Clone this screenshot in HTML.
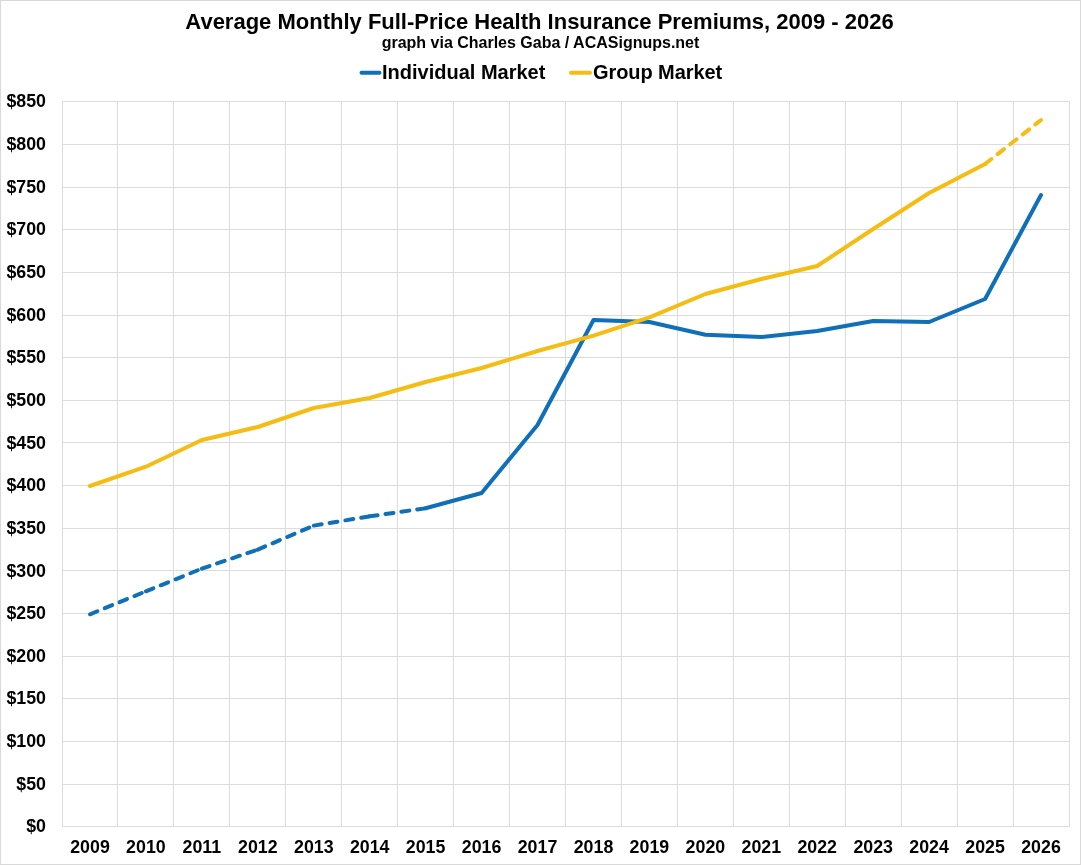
<!DOCTYPE html>
<html><head><meta charset="utf-8"><title>Chart</title>
<style>
html,body{margin:0;padding:0;background:#fff;}
body{width:1081px;height:865px;position:relative;overflow:hidden;font-family:"Liberation Sans",sans-serif;font-weight:bold;color:#000;}
#frame{position:absolute;left:0;top:0;width:1079px;height:863px;border:1px solid #d9d9d9;}
#txt{position:absolute;left:0;top:0;width:1081px;height:865px;will-change:transform;opacity:0.999;}
.t{position:absolute;white-space:nowrap;line-height:1;}
.yl{position:absolute;right:1035px;text-align:right;font-size:17.8px;line-height:20px;height:20px;white-space:nowrap;}
.xl{position:absolute;top:837.3px;width:56px;text-align:center;font-size:17.8px;line-height:20px;white-space:nowrap;}
</style></head><body>
<div id="frame"></div>

<svg width="1081" height="865" viewBox="0 0 1081 865" style="position:absolute;left:0;top:0">
<path d="M62.5 101 V827 M117.5 101 V827 M173.5 101 V827 M229.5 101 V827 M285.5 101 V827 M341.5 101 V827 M397.5 101 V827 M453.5 101 V827 M509.5 101 V827 M565.5 101 V827 M621.5 101 V827 M677.5 101 V827 M733.5 101 V827 M789.5 101 V827 M845.5 101 V827 M901.5 101 V827 M957.5 101 V827 M1013.5 101 V827 M1069.5 101 V827 M62 101.5 H1070 M62 144.5 H1070 M62 187.5 H1070 M62 229.5 H1070 M62 272.5 H1070 M62 315.5 H1070 M62 357.5 H1070 M62 400.5 H1070 M62 442.5 H1070 M62 485.5 H1070 M62 528.5 H1070 M62 570.5 H1070 M62 613.5 H1070 M62 656.5 H1070 M62 698.5 H1070 M62 741.5 H1070 M62 784.5 H1070 M62 826.5 H1070" stroke="#dcdcdc" stroke-width="1" fill="none"/>
<line x1="90.0" y1="614.3" x2="145.9" y2="591.3" stroke="#0f6fb8" stroke-width="4" stroke-linecap="round" stroke-dasharray="8 8"/>
<line x1="145.9" y1="591.3" x2="201.9" y2="568.6" stroke="#0f6fb8" stroke-width="4" stroke-linecap="round" stroke-dasharray="8 8"/>
<line x1="201.9" y1="568.6" x2="257.8" y2="549.6" stroke="#0f6fb8" stroke-width="4" stroke-linecap="round" stroke-dasharray="8 8"/>
<line x1="257.8" y1="549.6" x2="313.8" y2="525.6" stroke="#0f6fb8" stroke-width="4" stroke-linecap="round" stroke-dasharray="8 8"/>
<line x1="313.8" y1="525.6" x2="369.7" y2="516.3" stroke="#0f6fb8" stroke-width="4" stroke-linecap="round" stroke-dasharray="8 8"/>
<line x1="369.7" y1="516.3" x2="425.6" y2="508.3" stroke="#0f6fb8" stroke-width="4" stroke-linecap="round" stroke-dasharray="8 8"/>
<polyline points="425.6,508.3 481.6,493.0 537.5,425.0 593.5,320.0 649.4,322.0 705.4,334.8 761.3,337.0 817.2,331.0 873.2,321.0 929.1,322.0 985.1,299.0 1041.0,195.0" fill="none" stroke="#0f6fb8" stroke-width="4" stroke-linecap="round" stroke-linejoin="round"/>
<polyline points="90.0,486.0 145.9,466.7 201.9,440.0 257.8,427.0 313.8,408.0 369.7,398.0 425.6,382.0 481.6,368.0 537.5,351.0 593.5,335.6 649.4,317.3 705.4,294.0 761.3,279.0 817.2,266.0 873.2,229.0 929.1,193.0 985.1,164.0" fill="none" stroke="#f5bd14" stroke-width="4" stroke-linecap="round" stroke-linejoin="round"/>
<polyline points="985.1,164.0 1041.0,120.0" fill="none" stroke="#f5bd14" stroke-width="4" stroke-linecap="round" stroke-linejoin="round" stroke-dasharray="8 8"/>
<line x1="361.5" y1="72.7" x2="379.5" y2="72.7" stroke="#0f6fb8" stroke-width="4" stroke-linecap="round"/>
<line x1="571" y1="72.7" x2="590" y2="72.7" stroke="#f5bd14" stroke-width="4" stroke-linecap="round"/>
</svg>
<div id="txt">
<div class="t" style="left:-1px;width:1081px;text-align:center;top:10.8px;font-size:22px;">Average Monthly Full-Price Health Insurance Premiums, 2009 - 2026</div>
<div class="t" style="left:0;width:1081px;text-align:center;top:35.3px;font-size:16px;">graph via Charles Gaba / ACASignups.net</div>
<div class="t" style="left:382px;top:62px;font-size:20px;">Individual Market</div>
<div class="t" style="left:593px;top:62px;font-size:20px;letter-spacing:-0.08px;">Group Market</div>
<div class="yl" style="top:91.37px">$850</div>
<div class="yl" style="top:134.02px">$800</div>
<div class="yl" style="top:176.67px">$750</div>
<div class="yl" style="top:219.32px">$700</div>
<div class="yl" style="top:261.97px">$650</div>
<div class="yl" style="top:304.62px">$600</div>
<div class="yl" style="top:347.27px">$550</div>
<div class="yl" style="top:389.92px">$500</div>
<div class="yl" style="top:432.57px">$450</div>
<div class="yl" style="top:475.22px">$400</div>
<div class="yl" style="top:517.87px">$350</div>
<div class="yl" style="top:560.52px">$300</div>
<div class="yl" style="top:603.17px">$250</div>
<div class="yl" style="top:645.82px">$200</div>
<div class="yl" style="top:688.47px">$150</div>
<div class="yl" style="top:731.12px">$100</div>
<div class="yl" style="top:773.77px">$50</div>
<div class="yl" style="top:816.42px">$0</div>
<div class="xl" style="left:62.0px">2009</div>
<div class="xl" style="left:117.9px">2010</div>
<div class="xl" style="left:173.9px">2011</div>
<div class="xl" style="left:229.8px">2012</div>
<div class="xl" style="left:285.8px">2013</div>
<div class="xl" style="left:341.7px">2014</div>
<div class="xl" style="left:397.6px">2015</div>
<div class="xl" style="left:453.6px">2016</div>
<div class="xl" style="left:509.5px">2017</div>
<div class="xl" style="left:565.5px">2018</div>
<div class="xl" style="left:621.4px">2019</div>
<div class="xl" style="left:677.4px">2020</div>
<div class="xl" style="left:733.3px">2021</div>
<div class="xl" style="left:789.2px">2022</div>
<div class="xl" style="left:845.2px">2023</div>
<div class="xl" style="left:901.1px">2024</div>
<div class="xl" style="left:957.1px">2025</div>
<div class="xl" style="left:1013.0px">2026</div>
</div>
</body></html>
